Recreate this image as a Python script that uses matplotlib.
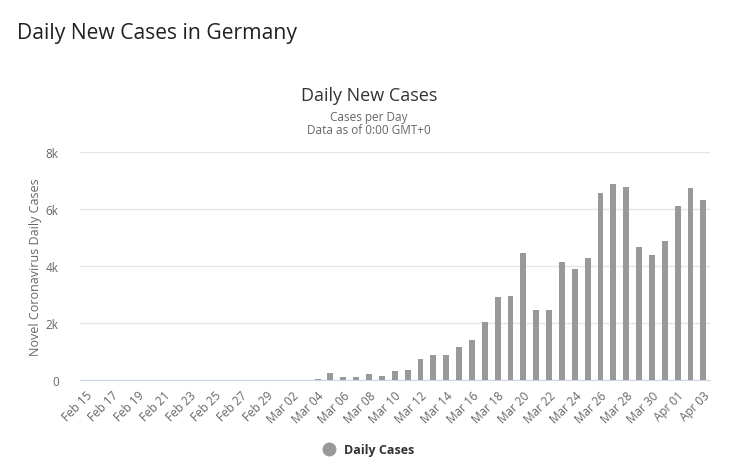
import numpy as np
import matplotlib
matplotlib.use('Agg')
import matplotlib.pyplot as plt
from matplotlib.ticker import FuncFormatter

# dates from Feb 15 to Apr 03
months = ['Feb'] * 15 + ['Mar'] * 31 + ['Apr'] * 3
days = list(range(15, 30)) + list(range(1, 32)) + list(range(1, 4))
dates = ['%s %02d' % (m, d) for m, d in zip(months, days)]

daily_cases = [0] * 18 + [
    40, 257, 117, 117, 222, 152, 327, 362, 749, 889, 889,
    1170, 1415, 2047, 2924, 2959, 4468, 2468, 2468, 4152, 3906,
    4292, 6573, 6889, 6784, 4678, 4398, 4889, 6117, 6749, 6327,
]

plt.rcParams['font.family'] = ['Open Sans', 'DejaVu Sans']

fig = plt.figure(figsize=(7.31, 4.77), dpi=100)
ax = fig.add_axes([0.109, 0.201, 0.862, 0.478])

x = np.arange(len(dates))
ax.bar(x, daily_cases, width=0.46, color='#999999', zorder=3)

ax.set_xlim(-0.5, len(dates) - 0.5)
ax.set_ylim(0, 8000)
ax.set_yticks([0, 2000, 4000, 6000, 8000])
ax.yaxis.set_major_formatter(FuncFormatter(lambda v, p: '0' if v == 0 else '%dk' % (v / 1000)))
ax.grid(axis='y', color='#e6e6e6', linewidth=1, zorder=0)
ax.set_xticks(x[::2])
ax.set_xticklabels(dates[::2], rotation=45, ha='right', rotation_mode='anchor')

for s in ['top', 'right', 'left']:
    ax.spines[s].set_visible(False)
ax.spines['bottom'].set_color('#ccd6eb')
ax.tick_params(axis='both', length=0, labelsize=8.5, colors='#666666')
ax.tick_params(axis='x', pad=6)
ax.tick_params(axis='y', pad=15)

ax.set_ylabel('Novel Coronavirus Daily Cases', fontsize=9, color='#666666', labelpad=3)

fig.text(0.023, 0.93, 'Daily New Cases in Germany', fontsize=15.2, color='#222222', va='center')
fig.text(0.505, 0.798, 'Daily New Cases', fontsize=13, color='#333333', ha='center', va='center')
fig.text(0.505, 0.754, 'Cases per Day', fontsize=8.5, color='#666666', ha='center', va='center')
fig.text(0.505, 0.727, 'Data as of 0:00 GMT+0', fontsize=8.5, color='#666666', ha='center', va='center')

# legend
fig.legend(handles=[plt.Line2D([], [], marker='o', linestyle='', color='#999999', markersize=9)],
           labels=['Daily Cases'], loc='center', bbox_to_anchor=(0.5, 0.055), frameon=False,
           prop={'size': 9, 'weight': 'bold'}, handletextpad=0.2, labelcolor='#333333')

fig.savefig('out.png', dpi=100)
